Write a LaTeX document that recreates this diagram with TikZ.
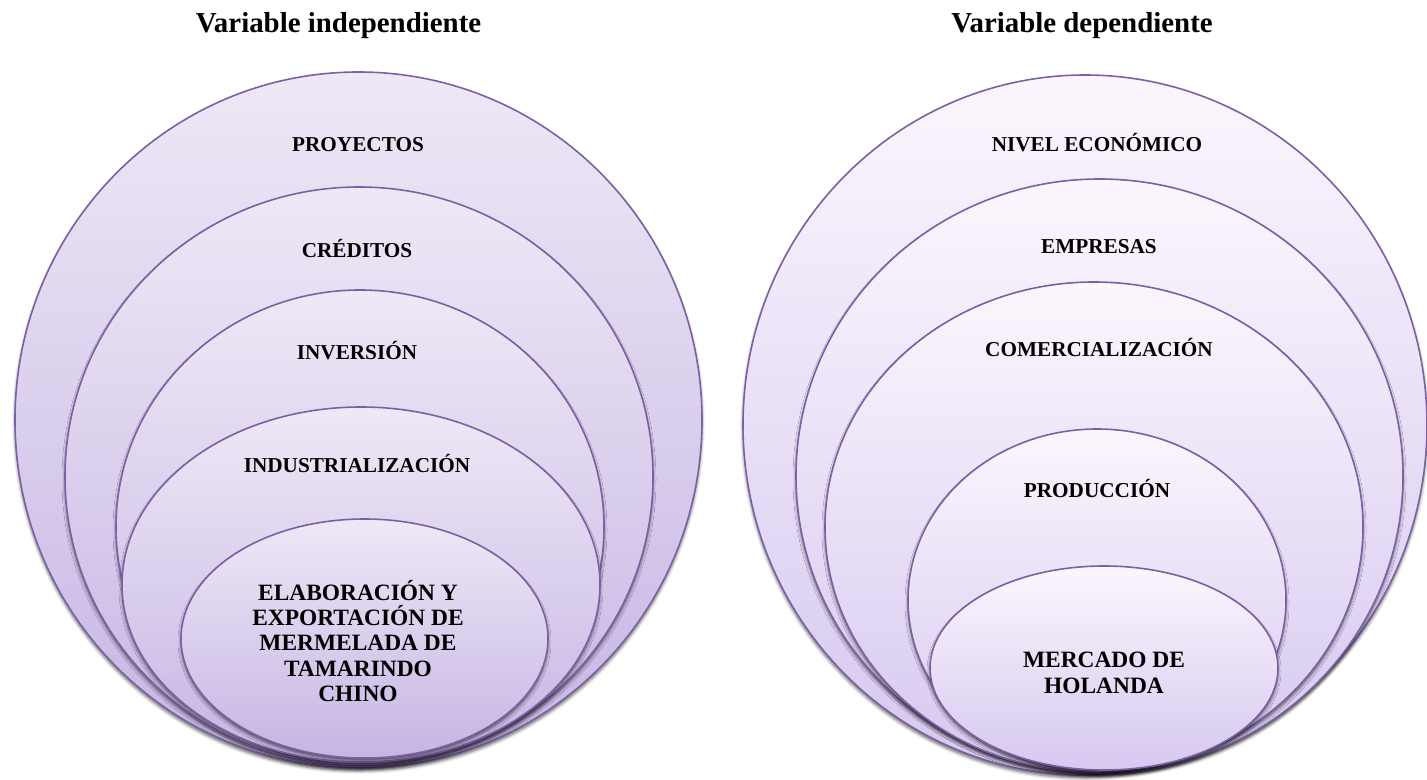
\documentclass[tikz,border=0pt]{standalone}
\usepackage{fontspec}
\setmainfont{Liberation Serif}
\usetikzlibrary{shapes.geometric,shadows.blur}
\definecolor{rimpurple}{RGB}{124,96,164}
\definecolor{ltop}{RGB}{238,232,246}
\definecolor{lbot}{RGB}{198,181,228}
\definecolor{rtop}{RGB}{251,246,253}
\definecolor{rbot}{RGB}{214,200,240}
\tikzset{
  ring/.style={ellipse, draw=rimpurple, line width=1.6bp, inner sep=0pt,
    blur shadow={shadow xshift=0pt, shadow yshift=-3bp, shadow blur radius=3bp, shadow opacity=60}},
  lring/.style={ring, top color=ltop, bottom color=lbot},
  rring/.style={ring, top color=rtop, bottom color=rbot},
  title/.style={font=\bfseries\fontsize{29}{33}\selectfont, anchor=base, inner sep=0pt},
  lbl/.style={font=\bfseries\fontsize{21.3}{25.5}\selectfont, anchor=base, inner sep=0pt, align=center},
  biglbl/.style={lbl, font=\bfseries\fontsize{23.5}{25.5}\selectfont, anchor=center},
}
\newcommand{\ringnode}[6]{\node[#1, minimum width=#4bp, minimum height=#5bp] (#6) at (#2,#3) {};}
\begin{document}
\begin{tikzpicture}[x=1bp,y=-1bp]
\useasboundingbox (0,0) rectangle (1427,779);
% left set
\ringnode{lring}{358.5}{420}{687}{696}{l1}
\ringnode{lring}{359}{476.5}{588}{579}{l2}
\ringnode{lring}{360}{527}{488}{474}{l3}
\ringnode{lring}{361}{584.5}{478}{355}{l4}
\ringnode{lring}{364.5}{638.5}{367}{239}{l5}
% right set
\ringnode{rring}{1085}{425}{684}{700}{r1}
\ringnode{rring}{1099.5}{476}{607}{594}{r2}
\ringnode{rring}{1094}{527}{538}{490}{r3}
\ringnode{rring}{1097}{600}{378}{342}{r4}
\ringnode{rring}{1104}{668}{348}{204}{r5}
% titles
\node[title] (tl) at (338.5,33) {Variable independiente};
\node[title] (tr) at (1082,33) {Variable dependiente};
% left labels
\node[lbl] (a1) at (358,151) {PROYECTOS};
\node[lbl] (a2) at (357,257) {CRÉDITOS};
\node[lbl] (a3) at (357,359) {INVERSIÓN};
\node[lbl] (a4) at (357,472) {INDUSTRIALIZACIÓN};
\node[biglbl] (a5) at (358,641) {ELABORACIÓN Y\\EXPORTACIÓN DE\\MERMELADA DE\\TAMARINDO\\CHINO};
% right labels
\node[lbl] (b1) at (1097,151) {NIVEL ECONÓMICO};
\node[lbl] (b2) at (1099,253) {EMPRESAS};
\node[lbl] (b3) at (1099,356) {COMERCIALIZACIÓN};
\node[lbl] (b4) at (1097,497) {PRODUCCIÓN};
\node[biglbl] (b5) at (1104,673) {MERCADO DE\\HOLANDA};
\end{tikzpicture}
\end{document}
